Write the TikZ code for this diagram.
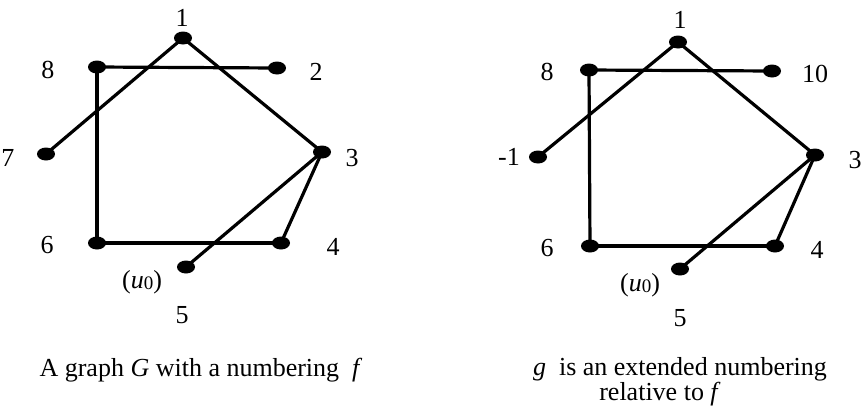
\documentclass[tikz,border=0pt]{standalone}
\usepackage{fontspec}
\setmainfont{Liberation Serif}
\usetikzlibrary{shapes.geometric}
\begin{document}
\begin{tikzpicture}[x=1pt,y=-1pt,
  vdot/.style={ellipse,fill=black,draw=none,minimum width=18pt,minimum height=13pt,inner sep=0pt},
  gedge/.style={line width=3.2pt},
  lab/.style={inner sep=0pt,font=\fontsize{26}{30}\selectfont},
  captxt/.style={inner sep=0pt,font=\fontsize{26}{30}\selectfont,align=center}]
\useasboundingbox (0,0) rectangle (865,408);
% left graph
\node[vdot] (a1) at (183,38) {};
\node[vdot] (a8) at (97,67) {};
\node[vdot] (a2) at (277,68) {};
\node[vdot] (a7) at (46,154) {};
\node[vdot] (a3) at (322,152) {};
\node[vdot] (a6) at (97,243) {};
\node[vdot] (a4) at (281,243) {};
\node[vdot] (a5) at (186,267) {};
\draw[gedge] (a1.center) -- (a7.center);
\draw[gedge] (a1.center) -- (a3.center);
\draw[gedge] (a8.center) -- (a2.center);
\draw[gedge] (a8.center) -- (a6.center);
\draw[gedge] (a6.center) -- (a4.center);
\draw[gedge] (a4.center) -- (a3.center);
\draw[gedge] (a3.center) -- (a5.center);
\node[lab] (la1) at (182,18) {1};
\node[lab] (la8) at (48,70) {8};
\node[lab] (la2) at (316,72) {2};
\node[lab] (la7) at (8,158) {7};
\node[lab] (la3) at (352,158) {3};
\node[lab] (la6) at (47,245) {6};
\node[lab] (la4) at (333,247) {4};
\node[lab] (lau) at (142,282) {(\textit{u}\raisebox{-1.5pt}{\fontsize{19}{19}\selectfont 0})};
\node[lab] (la5) at (182,315) {5};
\node[captxt] (capa) at (201,370) {A graph \textit{G} with a numbering \ \textit{f}};
% right graph
\node[vdot] (b1) at (678,42) {};
\node[vdot] (b8) at (589,70) {};
\node[vdot] (b10) at (772,71) {};
\node[vdot] (bm1) at (538,157) {};
\node[vdot] (b3) at (815,155) {};
\node[vdot] (b6) at (590,246) {};
\node[vdot] (b4) at (775,246) {};
\node[vdot] (b5) at (680,269) {};
\draw[gedge] (b1.center) -- (bm1.center);
\draw[gedge] (b1.center) -- (b3.center);
\draw[gedge] (b8.center) -- (b10.center);
\draw[gedge] (b8.center) -- (b6.center);
\draw[gedge] (b6.center) -- (b4.center);
\draw[gedge] (b4.center) -- (b3.center);
\draw[gedge] (b3.center) -- (b5.center);
\node[lab] (lb1) at (680,20) {1};
\node[lab] (lb8) at (547,72) {8};
\node[lab] (lb10) at (815,74) {10};
\node[lab] (lbm1) at (509,157) {-1};
\node[lab] (lb3) at (855,160) {3};
\node[lab] (lb6) at (547,248) {6};
\node[lab] (lb4) at (817,250) {4};
\node[lab] (lbu) at (640,285) {(\textit{u}\raisebox{-1.5pt}{\fontsize{19}{19}\selectfont 0})};
\node[lab] (lb5) at (680,318) {5};
\node[captxt] (capb1) at (680,369) {\textit{g} \ is an extended numbering};
\node[captxt] (capb2) at (660,394) {relative to \textit{f}};
\end{tikzpicture}
\end{document}
